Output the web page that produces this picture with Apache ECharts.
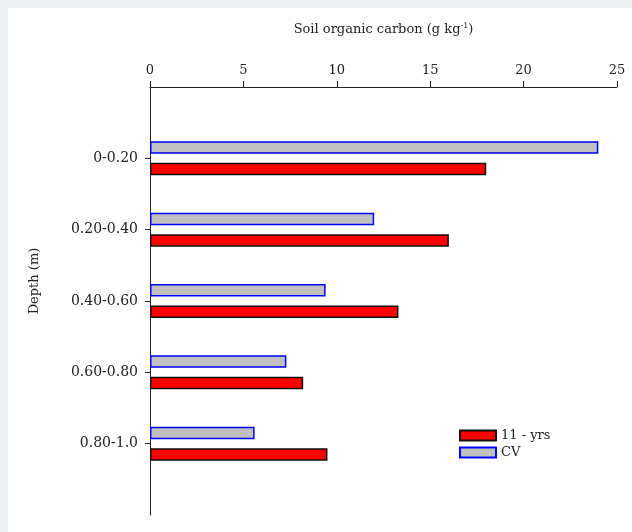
<!DOCTYPE html>
<html>
<head>
<meta charset="utf-8">
<script src="https://cdn.jsdelivr.net/npm/echarts@6/dist/echarts.min.js"></script>
<style>
html,body{margin:0;padding:0;background:#eff0f3;}
#chart{width:632px;height:532px;}
</style>
</head>
<body>
<div id="chart"></div>
<script>
var depths = ['0-0.20', '0.20-0.40', '0.40-0.60', '0.60-0.80', '0.80-1.0'];
var cvValues = [24, 12, 9.4, 7.3, 5.6];
var yrs11Values = [18, 16, 13.3, 8.2, 9.5];
var xTicks = [0, 5, 10, 15, 20, 25];

var FONT = 'DejaVu Serif';
var cats = [''].concat(depths).concat(['']);
function pad(a){ return [null].concat(a).concat([null]); }

var chart = echarts.init(document.getElementById('chart'), null, {renderer:'canvas'});
chart.setOption({
  backgroundColor: '#eff0f3',
  animation: false,
  graphic: [
    {type:'rect', z:-10, shape:{x:8, y:8, width:624, height:524}, style:{fill:'#ffffff'}},
    {type:'text', x:35, y:281, rotation:Math.PI/2,
     style:{text:'Depth (m)', font:'13px "DejaVu Serif"', fill:'#222', align:'center', verticalAlign:'middle', textAlign:'center', textVerticalAlign:'middle'}}
  ],
  grid: {left:150, right:15, top:87, bottom:17, containLabel:false},
  legend: {
    orient:'vertical', left:454, top:424, itemWidth:36, itemHeight:10, itemGap:4,
    icon:'rect',
    data:['11 - yrs','CV'],
    textStyle:{fontFamily:FONT, fontSize:13, color:'#222'}
  },
  xAxis: {
    type:'value', position:'top', min:xTicks[0], max:xTicks[xTicks.length-1], interval:5,
    name:'Soil organic carbon (g kg{sup|-1})', nameLocation:'middle', nameGap:50,
    nameTextStyle:{fontFamily:FONT, fontSize:13, color:'#222', rich:{sup:{fontFamily:FONT, fontSize:8, padding:[0,0,7,0], color:'#222'}}},
    axisLine:{show:true, lineStyle:{color:'#222', width:1}},
    axisTick:{show:true, inside:false, length:6, lineStyle:{color:'#222'}},
    axisLabel:{fontFamily:FONT, fontSize:13, color:'#222', margin:10},
    splitLine:{show:false}
  },
  yAxis: {
    type:'category', data:cats, inverse:true, boundaryGap:false,
    axisLine:{show:true, lineStyle:{color:'#222', width:1}},
    axisTick:{show:true, length:5, lineStyle:{color:'#222'}, interval:function(i,v){ return v !== ''; }},
    axisLabel:{fontFamily:FONT, fontSize:14, color:'#222', margin:12, interval:0},
    splitLine:{show:false}
  },
  series: [
    {name:'CV', type:'bar', data:pad(cvValues), barWidth:12.5, barGap:'72%',
     itemStyle:{color:'#c0c0c0', borderColor:'#0000ff', borderWidth:1.5}},
    {name:'11 - yrs', type:'bar', data:pad(yrs11Values), barWidth:12.5,
     itemStyle:{color:'#ff0000', borderColor:'#111111', borderWidth:1.5}}
  ]
});
</script>
</body>
</html>
